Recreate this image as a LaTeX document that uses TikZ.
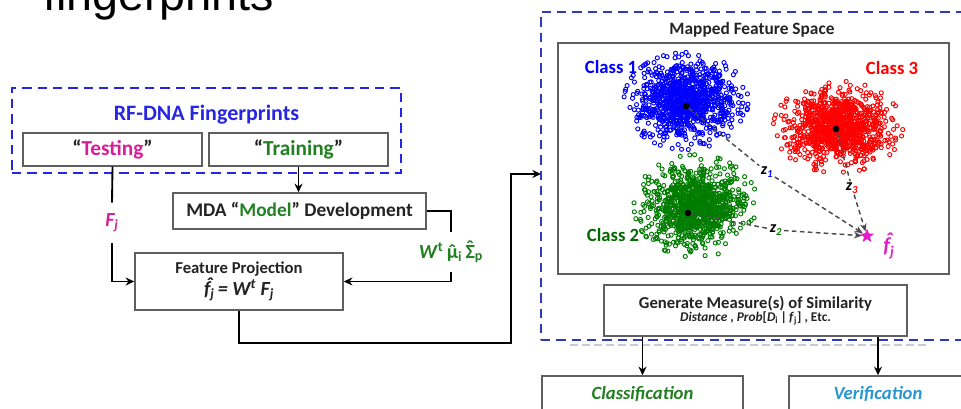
\documentclass[tikz,border=0pt]{standalone}
\usepackage{fontspec}
\setmainfont{Carlito}
\newfontfamily\headfont{Liberation Sans}
\usetikzlibrary{arrows.meta,shapes.geometric}

\definecolor{grpblueL}{RGB}{38,38,226}
\definecolor{grpblueR}{RGB}{44,58,190}
\definecolor{boxgray}{RGB}{95,95,95}
\definecolor{inkdark}{RGB}{35,35,35}
\definecolor{testmag}{RGB}{214,30,150}
\definecolor{traingreen}{RGB}{34,128,34}
\definecolor{verblue}{RGB}{40,150,210}
\definecolor{starmag}{RGB}{225,30,200}
\definecolor{ptblue}{RGB}{0,0,255}
\definecolor{ptred}{RGB}{255,0,0}
\definecolor{ptgreen}{RGB}{0,125,0}

\newcommand{\fs}[1]{\fontsize{#1}{1.2\dimexpr #1pt\relax}\selectfont}
% circumflex set over a letter: #1 raise, #2 sideways shift (doubled), #3 letter
\newcommand{\hatx}[3]{\leavevmode{\setbox0=\hbox{#3}\setbox2=\hbox{\char"02C6}%
  \rlap{\hbox to \wd0{\hss\kern#2\raise#1\box2\hss}}\box0}}
% one Gaussian sample cloud (tails cut at 2.7 sd):
% #1 count, #2 colour, #3 centre x, #4 centre y, #5 sd x, #6 sd y
\newcommand{\samplecloud}[6]{%
  \foreach \i in {1,...,#1}{
    \pgfmathsetmacro\rr{min(2.7,sqrt(-2*ln(0.0004+0.9995*rnd)))}
    \pgfmathsetmacro\tt{360*rnd}
    \draw[#2, line width=0.7pt] ({#3+#5*\rr*cos(\tt)},{#4+#6*\rr*sin(\tt)}) circle[radius=1.55pt];
  }}

\begin{document}
\begin{tikzpicture}[x=0.75pt,y=-0.75pt,
  box/.style={draw=boxgray, line width=1.1pt, fill=white, inner sep=0pt,
              align=center, text=inkdark, font=\bfseries},
  grpL/.style={draw=grpblueL, line width=1.8pt, dash pattern=on 7pt off 4.5pt, inner sep=0pt},
  grpR/.style={draw=grpblueR, line width=1.8pt, dash pattern=on 7pt off 4.5pt, inner sep=0pt},
  link/.style={line width=1.4pt, -{Stealth[length=6.5pt,width=6pt]}},
  wire/.style={line width=1.4pt},
  dist/.style={line width=1.1pt, draw=black!70, dash pattern=on 3.5pt off 2.5pt},
  distarrow/.style={dist, -{Stealth[length=6pt,width=5pt,fill=black]}},
  cdot/.style={circle, fill=black, inner sep=0pt, minimum size=5pt},
  classlbl/.style={font=\bfseries\fs{14}},
  zlbl/.style={font=\bfseries\itshape\fs{12}, inner sep=1pt},
]
\useasboundingbox (0,0) rectangle (961,409);

% slide heading, cut at the top edge
\node[anchor=base west, inner sep=0pt, font=\headfont\fs{35}] (head) at (43,11) {fingerprints};

% ---------------- left part: fingerprints, model, projection
\node[grpL, minimum width=291.75pt, minimum height=63.75pt] (rfgrp) at (206.5,130.5) {};
\node[font=\bfseries\fs{16.5}, text=grpblueL] (rftitle) at (206.5,115) {RF-DNA Fingerprints};
\node[box, minimum width=134.25pt, minimum height=24.75pt, font=\bfseries\fs{16}] (test) at (112.5,149.5)
  {“\textcolor{testmag}{Testing}”};
\node[box, minimum width=134.25pt, minimum height=24.75pt, font=\bfseries\fs{16}] (train) at (298.5,149.5)
  {“\textcolor{traingreen}{Training}”};

\node[box, minimum width=189.75pt, minimum height=27pt, font=\bfseries\fs{14.5}] (mda) at (299.5,211)
  {MDA “\textcolor{traingreen}{Model}” Development};

\node[box, minimum width=156pt, minimum height=42.75pt] (proj) at (239,281.5)
  {{\fs{12.5}Feature Projection}\\[0pt]
   {\fs{15}\itshape \hatx{0.22em}{0.25em}{f}\textsubscript{j}\,= W\textsuperscript{t} F\textsubscript{j}}};

\node[inner sep=0pt, minimum height=30pt, text=testmag, font=\bfseries\itshape\fs{15}] (Fj) at (112,223)
  {F\textsubscript{j}};
\node[inner sep=0pt, minimum height=29.25pt, text=traingreen, font=\bfseries\fs{15}] (wlab) at (451,252)
  {\textit{W}\textsuperscript{t}\,\hatx{0pt}{0pt}{μ}\textsubscript{i}\,\hatx{0.18em}{0pt}{Σ}\textsubscript{p}};

\draw[wire] (test.south) -- (Fj.north);
\draw[link] (Fj.south) |- (proj.west);
\draw[link] (train.south) -- (train.south |- mda.north);
\draw[wire] (mda.east) -| (wlab.north);
\draw[link] (wlab.south) |- (proj.east);

\coordinate (bend) at (511,343);
\coordinate (mapin) at (541,174);
\draw[link] (proj.south) |- (bend) |- (mapin);

% ---------------- right part: mapped feature space
\node[grpR, minimum width=329.25pt, minimum height=246pt] (mapgrp) at (760.5,176) {};
\node[font=\bfseries\fs{13}, text=inkdark] (maptitle) at (752,30) {Mapped Feature Space};
\node[box, minimum width=293.25pt, minimum height=173.25pt] (space) at (753.5,158.5) {};

% scattered samples of the three classes
\pgfmathsetseed{4242}
\samplecloud{1000}{ptblue}{686}{101}{23}{18}
\samplecloud{1000}{ptgreen}{696}{206}{23}{19}
\samplecloud{1000}{ptred}{838}{127}{24}{17}

\node[classlbl, text=ptblue] (lab1) at (611,67) {Class 1};
\node[classlbl, text=ptred] (lab3) at (892,68) {Class 3};
\node[classlbl, text=ptgreen!85!black] (lab2) at (613,235) {Class 2};

\node[cdot] (c1) at (686,106) {};
\node[cdot] (c2) at (688,213) {};
\node[cdot] (c3) at (836,129) {};

\node[star, star points=5, star point ratio=2.3, fill=starmag, inner sep=0pt, minimum size=11pt] (fstar) at (867,236) {};
\node[text=starmag, font=\bfseries\itshape\fs{16}] (fhat) at (889,246) {\hatx{0.22em}{0.25em}{f}\textsubscript{j}};

\node[zlbl] (z1) at (767,172) {z\textsubscript{\textcolor{ptblue}{1}}};
\node[zlbl] (z2) at (776,230) {z\textsubscript{\textcolor{ptgreen}{2}}};
\node[zlbl] (z3) at (852,188) {z\textsubscript{\textcolor{ptred}{3}}};

\draw[dist] (c1) -- (z1);
\draw[distarrow] (z1) -- (fstar);
\draw[dist] (c2) -- (z2);
\draw[distarrow] (z2) -- (fstar);
\draw[dist] (c3) -- (z3);
\draw[distarrow] (z3) -- (fstar);

\node[box, minimum width=227.25pt, minimum height=38.25pt] (sim) at (755.5,310.5)
  {{\fs{12.5}Generate Measure(s) of Similarity}\\[-2pt]
   {\fs{10}\textit{Distance} , \textit{Prob}[\textit{D}\textsubscript{i}\,|\,\textit{f}\textsubscript{j}] , Etc.}};

% faint rule under the group frame
\draw[black!20, line width=0.8pt, dash pattern=on 6pt off 3pt] (570,345) -- (930,345);

% ---------------- outcomes
\node[box, minimum width=150.75pt, minimum height=27pt, font=\bfseries\itshape\fs{14}, text=traingreen] (cls) at (642.5,394) {Classification};
\node[box, minimum width=133.5pt, minimum height=27pt, font=\bfseries\itshape\fs{14}, text=verblue] (ver) at (878,394) {Verification};

\draw[link] (sim.south -| cls.north) -- (cls.north);
\draw[link] (sim.south -| ver.north) -- (ver.north);
\end{tikzpicture}
\end{document}
